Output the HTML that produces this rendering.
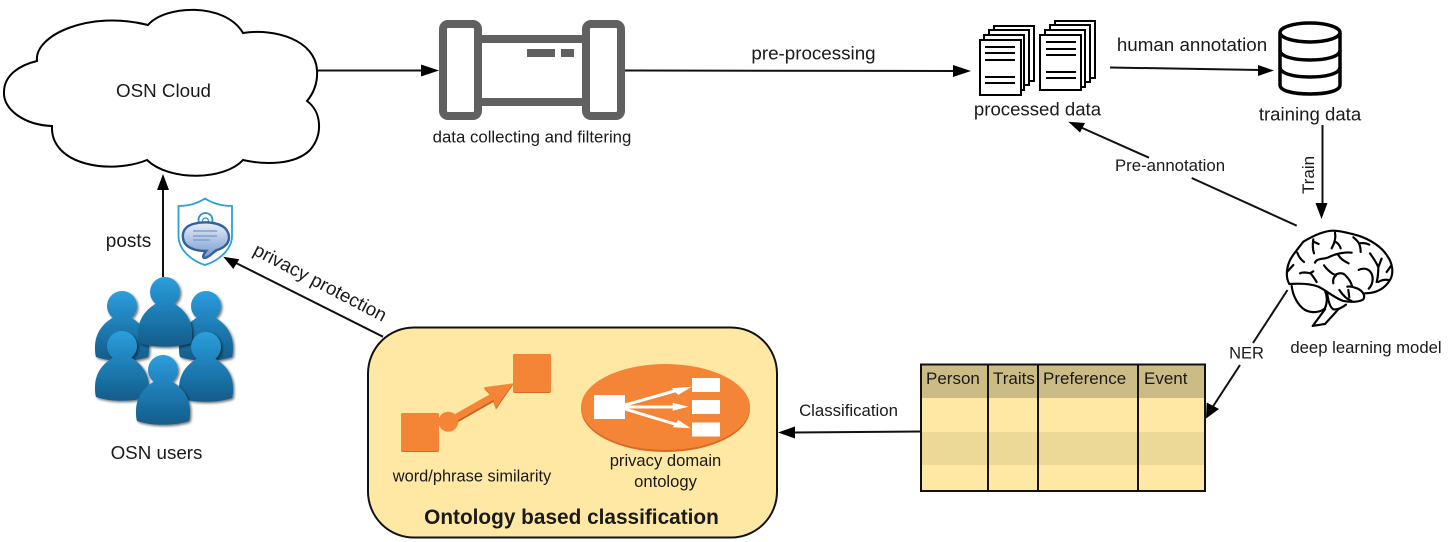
<!DOCTYPE html>
<html>
<head>
<meta charset="utf-8">
<style>
html,body{margin:0;padding:0;background:#fff;width:1448px;height:542px;overflow:hidden}
svg{display:block}
text{font-family:"Liberation Sans",sans-serif;fill:#1a1a1a}
</style>
</head>
<body>
<svg width="1448" height="542" viewBox="0 0 1448 542" xmlns="http://www.w3.org/2000/svg">
<defs>
<linearGradient id="head" x1="0" y1="0" x2="0" y2="1"><stop offset="0" stop-color="#2c9fdc"/><stop offset="1" stop-color="#1f80ba"/></linearGradient>
<linearGradient id="body" x1="0" y1="0" x2="0" y2="1"><stop offset="0" stop-color="#2285bf"/><stop offset="1" stop-color="#125c8a"/></linearGradient>
<linearGradient id="bubble" x1="0" y1="0" x2="0" y2="1"><stop offset="0" stop-color="#e8eef7"/><stop offset="1" stop-color="#7299cf"/></linearGradient>
<filter id="sh" x="-20%" y="-20%" width="150%" height="150%"><feDropShadow dx="1.500" dy="1.500" stdDeviation="1.300" flood-color="#000" flood-opacity=".55"/></filter>
<symbol id="person" viewBox="0 0 54 72" overflow="visible">
<path d="M19,26 C8,32 0,42 0,56 C0,60 0,63 1,66 C15,71 39,71 53,66 C54,63 54,60 54,56 C54,42 46,32 35,26 Z" fill="url(#body)"/>
<circle cx="27" cy="15" r="15" fill="url(#head)"/>
</symbol>
</defs>

<!-- Cloud -->
<path d="M37,61 C34,35 90,10 148,25 C165,5 225,2 243,33 C275,28 315,40 317,70 C318,85 312,95 307,101 C322,112 323,135 310,150 C295,165 265,165 243,160 C225,180 170,182 147,160 C110,175 50,165 52,126 C25,125 3,110 4,92 C4,75 20,65 37,61 Z" fill="#fff" stroke="#000" stroke-width="2"/>
<text x="163.500" y="97" font-size="18.800" text-anchor="middle">OSN Cloud</text>

<!-- Cloud to filter -->
<path d="M317,70.500H424" stroke="#111" stroke-width="2" fill="none"/>
<path d="M439,70.500L421,64.500V76.500Z" fill="#000"/>

<!-- Filter icon -->
<g fill="none" stroke="#606060" stroke-width="8">
<rect x="443" y="24" width="35" height="92" rx="5"/>
<rect x="586" y="24" width="35" height="92" rx="5"/>
<path d="M482,39H582M482,102H582"/>
</g>
<rect x="527" y="49" width="28" height="8" fill="#606060"/>
<rect x="561" y="49" width="13" height="8" fill="#606060"/>
<text x="532" y="142.500" font-size="16.800" text-anchor="middle">data collecting and filtering</text>

<!-- pre-processing -->
<path d="M625,70.500L956,71" stroke="#111" stroke-width="2" fill="none"/>
<path d="M971,71L953,65V77Z" fill="#000"/>
<text x="813.500" y="59.500" font-size="18.800" text-anchor="middle">pre-processing</text>

<!-- Documents -->
<g fill="#fff" stroke="#000" stroke-width="2">
<rect x="994" y="26" width="40" height="55"/>
<rect x="989" y="30" width="40" height="55"/>
<rect x="984" y="35" width="40" height="55"/>
<rect x="980" y="40" width="41" height="55"/>
<rect x="1055" y="21" width="40" height="57"/>
<rect x="1050" y="25" width="40" height="57"/>
<rect x="1045" y="30" width="40" height="57"/>
<rect x="1040" y="35" width="41" height="55"/>
</g>
<g stroke="#000" stroke-width="2" fill="none">
<path d="M985,47H1015M985,53H1015M985,60H1015M985,77H1015M985,83H1015"/>
<path d="M1046,42H1076M1046,49H1076M1046,55H1076M1046,72H1076M1046,78H1076"/>
</g>
<text x="1037.500" y="115.500" font-size="18.600" text-anchor="middle">processed data</text>

<!-- human annotation -->
<path d="M1110,67.500L1260,70" stroke="#111" stroke-width="2" fill="none"/>
<path d="M1274,70.500L1258,65V76Z" fill="#000"/>
<text x="1192" y="51" font-size="18.800" text-anchor="middle">human annotation</text>

<!-- Database -->
<g fill="#fff" stroke="#000" stroke-width="3.500">
<path d="M1280,33V85C1280,91 1294,94 1310,94C1326,94 1340,91 1340,85V33"/>
<ellipse cx="1310" cy="32.500" rx="30" ry="9.500"/>
<path d="M1280,50C1280,57 1295,60 1310,60C1325,60 1340,57 1340,50" fill="none"/>
<path d="M1280,67C1280,74 1295,77 1310,77C1325,77 1340,74 1340,67" fill="none"/>
</g>
<text x="1310" y="120.500" font-size="18.600" text-anchor="middle">training data</text>

<!-- Train -->
<path d="M1322.500,125V205" stroke="#111" stroke-width="2" fill="none"/>
<path d="M1321.500,219L1315.500,203H1327.500Z" fill="#000"/>
<text transform="translate(1314,194) rotate(-90)" font-size="17">Train</text>

<!-- Pre-annotation -->
<path d="M1296.700,225.700L1191.700,178M1149,157.700L1080,127" stroke="#111" stroke-width="2" fill="none"/>
<path d="M1068.300,121.700L1085,123L1080,132.500Z" fill="#000"/>
<text x="1170" y="171" font-size="16.800" text-anchor="middle">Pre-annotation</text>

<!-- Brain -->
<g transform="translate(1270,220) scale(.3333)" fill="none" stroke="#000" stroke-width="6.500" stroke-linecap="round" stroke-linejoin="round">
<path d="M58,192 C48,175 48,150 58,125 C66,105 80,92 100,65 C125,50 160,32 190,32 C215,32 245,42 262,46 C300,58 335,80 352,108 C368,130 372,160 360,180 C345,205 320,220 285,220"/>
<path d="M58,192 C90,190 125,192 145,200 C170,212 195,235 220,243 C245,248 270,245 280,238 C288,225 275,208 255,203 C245,200 238,198 232,200"/>
<path d="M65,198 C68,225 82,255 105,270 C125,280 150,278 165,265 C173,245 172,228 165,212"/>
<path d="M172,222 C175,245 180,262 190,268 C205,270 218,262 228,254"/>
<path d="M165,268 L128,318 L165,312 L205,268"/>
<path d="M130,58 C128,70 128,88 132,100 M130,65 L146,72"/>
<path d="M195,38 C198,52 196,65 185,85 M195,65 C204,68 210,78 212,85"/>
<path d="M82,98 C85,108 92,118 102,126 M52,155 L70,135"/>
<path d="M250,52 C262,62 272,70 272,96 M268,70 C280,68 290,70 298,74"/>
<path d="M135,128 C138,115 160,118 175,112 C195,102 225,95 245,98 M205,105 C212,118 225,125 236,130"/>
<path d="M162,136 C172,150 185,160 195,165 C208,158 220,158 228,168 C238,178 244,190 246,198 M198,166 C190,172 188,180 190,190"/>
<path d="M90,160 C100,155 112,158 122,160 C130,170 135,178 140,186 M120,160 L130,154"/>
<path d="M266,150 C278,143 295,145 303,158 C312,172 308,195 296,206"/>
<path d="M300,100 C310,115 320,128 325,142 C330,130 332,122 335,116 M325,140 C325,158 324,172 320,186 M325,186 C335,180 345,178 355,180 M350,156 L364,136"/>
<path d="M208,210 C218,225 230,238 245,243 M235,210 L238,232"/>
</g>
<text x="1366" y="353" font-size="16.700" text-anchor="middle">deep learning model</text>

<!-- NER -->
<path d="M1287.500,290L1253,343M1240,365L1212,408" stroke="#111" stroke-width="2" fill="none"/>
<path d="M1206,418.500L1206.700,402.500L1219,409Z" fill="#000"/>
<text x="1246.500" y="358.500" font-size="16.500" text-anchor="middle">NER</text>

<!-- Table -->
<rect x="921" y="364" width="284" height="34" fill="#cbbb85"/>
<rect x="921" y="398" width="284" height="34" fill="#fee8a4"/>
<rect x="921" y="432" width="284" height="33" fill="#ecd997"/>
<rect x="921" y="465" width="284" height="26" fill="#fee8a4"/>
<rect x="921" y="364.500" width="284" height="126.500" fill="none" stroke="#111" stroke-width="2"/>
<path d="M988,364V491M1038,364V491M1138,364V491" stroke="#111" stroke-width="2" fill="none"/>
<text x="926" y="384" font-size="17">Person</text>
<text x="993" y="384" font-size="17">Traits</text>
<text x="1043" y="384" font-size="17">Preference</text>
<text x="1144" y="384" font-size="17">Event</text>

<!-- Classification -->
<path d="M921,431.500L793,432.500" stroke="#111" stroke-width="2" fill="none"/>
<path d="M778,432.500L795,426.500V438.500Z" fill="#000"/>
<text x="848.500" y="416" font-size="16.800" text-anchor="middle">Classification</text>

<!-- Ontology box -->
<rect x="368" y="327.500" width="409" height="210" rx="46" ry="46" fill="#fee8a4" stroke="#111" stroke-width="2"/>

<!-- Similarity icon -->
<rect x="513" y="354" width="38" height="39" rx="2" fill="#d96a25"/>
<rect x="513" y="354" width="38" height="38" rx="2" fill="#f58536"/>
<rect x="401" y="413" width="38" height="39" rx="2" fill="#d96a25"/>
<rect x="401" y="413" width="38" height="38" rx="2" fill="#f58536"/>
<path d="M455,415L490,395L484,388.500L513.300,384.500L496,409.500L493.300,402L458.300,422Z" fill="#c9601f"/>
<path d="M455,414L490,394.300L484,387.300L513.300,383.300L495.700,408.300L493.300,400L458.300,420Z" fill="#f58536"/>
<circle cx="448.300" cy="421.700" r="10" fill="#f58536"/>
<text x="472" y="481.500" font-size="16.400" text-anchor="middle">word/phrase similarity</text>

<!-- Ontology icon -->
<ellipse cx="665.500" cy="409" rx="84.500" ry="43" fill="#d96a25"/>
<ellipse cx="665.500" cy="407" rx="84.500" ry="43" fill="#f58536"/>
<g fill="#fff">
<rect x="594" y="395" width="31" height="24"/>
<rect x="692" y="378" width="28" height="14"/>
<rect x="692" y="400" width="28" height="14"/>
<rect x="692" y="422.500" width="28" height="14"/>
</g>
<g stroke="#fff" stroke-width="3" fill="none">
<path d="M625,405L678,390M625,407H676M625,409L678,425"/>
</g>
<g fill="#fff">
<path d="M691.700,386.700L671.700,388.300L678.300,395Z"/>
<path d="M688.300,406.700L672.700,402.700V410.700Z"/>
<path d="M690.700,428.300L678.300,420L672.700,427.300Z"/>
</g>
<text x="665.500" y="466" font-size="16.600" text-anchor="middle">privacy domain</text>
<text x="665.500" y="487" font-size="16.600" text-anchor="middle">ontology</text>
<text x="571.500" y="524" font-size="20.800" font-weight="bold" text-anchor="middle">Ontology based classification</text>

<!-- privacy protection -->
<path d="M383,336.700L236,263" stroke="#111" stroke-width="2" fill="none"/>
<path d="M223.300,256.700L239.300,259.300L233.300,269Z" fill="#000"/>
<text transform="translate(252,254) rotate(27.500)" font-size="18.800">privacy protection</text>

<!-- posts -->
<path d="M163,277V190" stroke="#111" stroke-width="2" fill="none"/>
<path d="M163,174L157,190H169Z" fill="#000"/>
<text x="128.500" y="247" font-size="19" text-anchor="middle">posts</text>

<!-- Shield -->
<path d="M178.500,206C190,206 198,203 205,198.500C212,203 220,206 232,206V236C232,250 218,261 205,265C192,261 178.500,250 178.500,236Z" fill="#fff" stroke="#29a0d8" stroke-width="1.800"/>
<circle cx="205.500" cy="220" r="7" fill="#fff" stroke="#2a95c8" stroke-width="1.800"/>
<circle cx="205.500" cy="221" r="3" fill="none" stroke="#2a95c8" stroke-width="1.300"/>
<path d="M193,224C204,221 218,222 225,228C232,236 230,246 217,250C213,252 210,257 205,258C202,258 203,255 206,251C196,251 184,248 183,238C182,231 186,226 193,224Z" fill="url(#bubble)" stroke="#34609f" stroke-width="2.400"/>
<path d="M193,231H217M193,236H217M193,240H210" stroke="#7d9fce" stroke-width="1.400" fill="none"/>

<!-- People -->
<use href="#person" x="95" y="291" width="54" height="72" filter="url(#sh)"/>
<use href="#person" x="179" y="291" width="54" height="72" filter="url(#sh)"/>
<use href="#person" x="138" y="277" width="54" height="72" filter="url(#sh)"/>
<use href="#person" x="95" y="331" width="54" height="72" filter="url(#sh)"/>
<use href="#person" x="179" y="332" width="54" height="72" filter="url(#sh)"/>
<use href="#person" x="136" y="355" width="54" height="72" filter="url(#sh)"/>
<text x="156.500" y="459" font-size="18.800" text-anchor="middle">OSN users</text>
</svg>
</body>
</html>
